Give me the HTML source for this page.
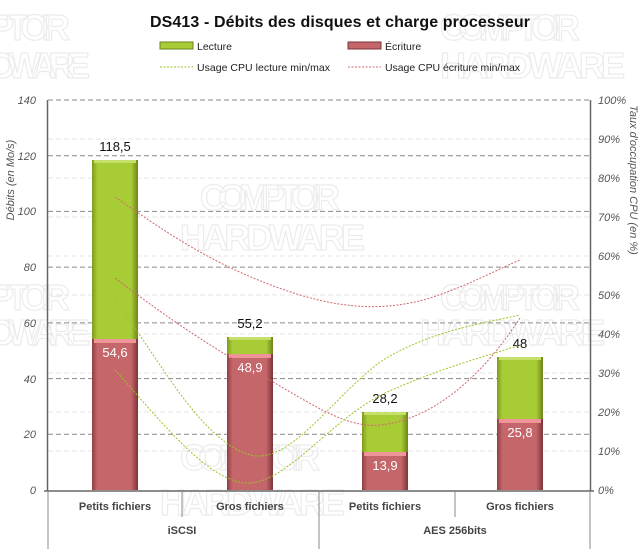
<!DOCTYPE html>
<html><head><meta charset="utf-8"><style>
body{margin:0;background:#fff}
svg{display:block;font-family:"Liberation Sans",sans-serif}
</style></head><body>
<svg width="643" height="549" viewBox="0 0 643 549" xmlns="http://www.w3.org/2000/svg">
<defs>
<linearGradient id="g" x1="0" x2="1" y1="0" y2="0">
<stop offset="0" stop-color="#7f9a1e"/><stop offset="0.12" stop-color="#a8cc36"/><stop offset="0.85" stop-color="#a8cc36"/><stop offset="1" stop-color="#6d8418"/></linearGradient>
<linearGradient id="r" x1="0" x2="1" y1="0" y2="0">
<stop offset="0" stop-color="#8f3f43"/><stop offset="0.12" stop-color="#c5666b"/><stop offset="0.85" stop-color="#c5666b"/><stop offset="1" stop-color="#7c3438"/></linearGradient>
</defs>
<!-- watermarks -->
<g fill="none" stroke="#ececec" stroke-width="1.2" font-weight="bold" font-size="36">
<text x="-10" y="40" textLength="80">PTOIR</text><text x="-10" y="78" textLength="100">DWARE</text>
<text x="440" y="40" textLength="140">COMPTOIR</text><text x="440" y="78" textLength="185">HARDWARE</text>
<text x="200" y="210" textLength="140">COMPTOIR</text><text x="180" y="250" textLength="185">HARDWARE</text>
<text x="-10" y="310" textLength="80">PTOIR</text><text x="-10" y="345" textLength="100">DWARE</text>
<text x="440" y="310" textLength="140">COMPTOIR</text><text x="420" y="345" textLength="185">HARDWARE</text>
<text x="180" y="470" textLength="140">COMPTOIR</text><text x="160" y="515" textLength="185">HARDWARE</text>
</g>
<text x="340" y="27" text-anchor="middle" font-size="16" font-weight="bold" fill="#111" textLength="380">DS413 - Débits des disques et charge processeur</text>
<!-- legend -->
<rect x="160" y="42" width="33" height="7" fill="#a8cc36" stroke="#6d8418"/>
<text x="197" y="50" font-size="10.5" fill="#222">Lecture</text>
<rect x="348" y="42" width="33" height="7" fill="#c5666b" stroke="#7c3438"/>
<text x="385" y="50" font-size="10.5" fill="#222">Écriture</text>
<line x1="160" y1="67" x2="193" y2="67" stroke="#9ac72a" stroke-dasharray="2,1.5"/>
<text x="197" y="71" font-size="10.5" fill="#222" textLength="133">Usage CPU lecture min/max</text>
<line x1="348" y1="67" x2="381" y2="67" stroke="#d0686e" stroke-dasharray="2,1.5"/>
<text x="385" y="71" font-size="10.5" fill="#222" textLength="135">Usage CPU écriture min/max</text>
<!-- right faint grid -->
<g stroke="#e6e6e6" stroke-dasharray="5,3">
<line x1="48" x2="590" y1="139" y2="139"/><line x1="48" x2="590" y1="178" y2="178"/><line x1="48" x2="590" y1="217" y2="217"/><line x1="48" x2="590" y1="256" y2="256"/><line x1="48" x2="590" y1="295" y2="295"/><line x1="48" x2="590" y1="334" y2="334"/><line x1="48" x2="590" y1="373" y2="373"/><line x1="48" x2="590" y1="412" y2="412"/><line x1="48" x2="590" y1="451" y2="451"/>
</g>
<!-- left grid -->
<g stroke="#8a8a8a" stroke-dasharray="5,3">
<line x1="48" x2="590" y1="100" y2="100"/><line x1="48" x2="590" y1="155.7" y2="155.7"/><line x1="48" x2="590" y1="211.4" y2="211.4"/><line x1="48" x2="590" y1="267.1" y2="267.1"/><line x1="48" x2="590" y1="322.9" y2="322.9"/><line x1="48" x2="590" y1="378.6" y2="378.6"/><line x1="48" x2="590" y1="434.3" y2="434.3"/>
</g>
<g font-size="11" font-style="italic" fill="#555" text-anchor="end">
<text x="36" y="104">140</text><text x="36" y="160">120</text><text x="36" y="215">100</text><text x="36" y="271">80</text><text x="36" y="327">60</text><text x="36" y="383">40</text><text x="36" y="438">20</text><text x="36" y="494">0</text>
</g>
<g font-size="11" font-style="italic" fill="#555" text-anchor="start">
<text x="598" y="104">100%</text><text x="598" y="143">90%</text><text x="598" y="182">80%</text><text x="598" y="221">70%</text><text x="598" y="260">60%</text><text x="598" y="299">50%</text><text x="598" y="338">40%</text><text x="598" y="377">30%</text><text x="598" y="416">20%</text><text x="598" y="455">10%</text><text x="598" y="494">0%</text>
</g>
<text transform="translate(14,180) rotate(-90)" text-anchor="middle" font-size="11" font-style="italic" fill="#555">Débits (en Mo/s)</text>
<text transform="translate(630,180) rotate(90)" text-anchor="middle" font-size="11" font-style="italic" fill="#555">Taux d'occupation CPU (en %)</text>
<!-- bars -->
<g>
<rect x="92" y="160" width="46" height="179" fill="url(#g)"/><rect x="92" y="339" width="46" height="151" fill="url(#r)"/>
<rect x="227" y="337" width="46" height="17" fill="url(#g)"/><rect x="227" y="354" width="46" height="136" fill="url(#r)"/>
<rect x="362" y="412" width="46" height="40" fill="url(#g)"/><rect x="362" y="452" width="46" height="38" fill="url(#r)"/>
<rect x="497" y="357" width="46" height="62" fill="url(#g)"/><rect x="497" y="419" width="46" height="71" fill="url(#r)"/>
</g>
<g fill="#c4df6a"><rect x="94" y="160" width="42" height="3"/><rect x="229" y="337" width="42" height="3"/><rect x="364" y="412" width="42" height="3"/><rect x="499" y="357" width="42" height="3"/></g>
<g fill="#ef9498"><rect x="94" y="339" width="42" height="4"/><rect x="229" y="354" width="42" height="4"/><rect x="364" y="452" width="42" height="4"/><rect x="499" y="419" width="42" height="4"/></g>
<g font-size="13" text-anchor="middle" fill="#111">
<text x="115" y="151">118,5</text><text x="250" y="328">55,2</text><text x="385" y="403">28,2</text><text x="520" y="348">48</text>
</g>
<g font-size="13" text-anchor="middle" fill="#fff">
<text x="115" y="357">54,6</text><text x="250" y="372">48,9</text><text x="385" y="470">13,9</text><text x="520" y="437">25,8</text>
</g>
<!-- CPU lines -->
<g fill="none" stroke-width="1" stroke-dasharray="2,1.5">
<path stroke="#d0686e" d="M115,197 C170,235 220,270 300,295 C350,310 390,310 430,298 C470,285 500,268 520,260"/>
<path stroke="#d0686e" d="M115,278 C170,320 215,350 270,380 C320,410 350,428 380,425 C430,420 480,380 520,318"/>
<path stroke="#9ac72a" d="M115,300 C160,360 200,440 250,455 C290,465 330,400 380,362 C430,330 490,322 520,315"/>
<path stroke="#9ac72a" d="M115,370 C160,420 210,485 250,483 C290,480 330,420 385,393 C440,368 490,355 520,345"/>
</g>
<!-- axes -->
<line x1="47.5" y1="100" x2="47.5" y2="491" stroke="#666" stroke-width="1.5"/>
<line x1="590.5" y1="100" x2="590.5" y2="491" stroke="#666" stroke-width="1.5"/>
<line x1="44" y1="491" x2="594" y2="491" stroke="#666" stroke-width="1.5"/>
<g stroke="#888">
<line x1="48" y1="491" x2="48" y2="549"/><line x1="182" y1="491" x2="182" y2="517"/><line x1="319" y1="491" x2="319" y2="549"/><line x1="455" y1="491" x2="455" y2="517"/><line x1="590" y1="491" x2="590" y2="549"/>
</g>
<g font-size="11" font-weight="bold" fill="#444" text-anchor="middle">
<text x="115" y="510">Petits fichiers</text><text x="250" y="510">Gros fichiers</text><text x="385" y="510">Petits fichiers</text><text x="520" y="510">Gros fichiers</text>
<text x="182" y="534">iSCSI</text><text x="455" y="534">AES 256bits</text>
</g>
</svg>
</body></html>
